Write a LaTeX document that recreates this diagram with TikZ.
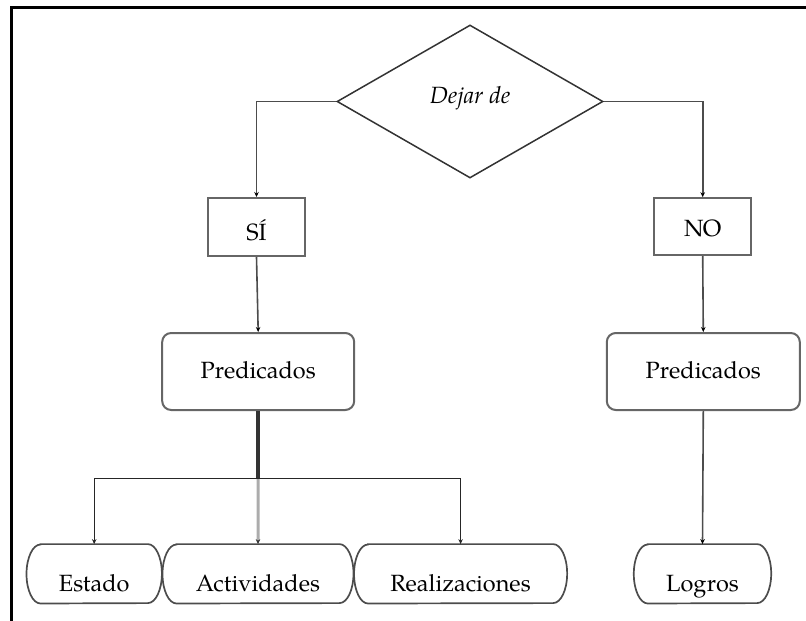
\documentclass[tikz,border=0pt]{standalone}
\usepackage{fontspec}
\setmainfont{TeX Gyre Pagella}
\usetikzlibrary{arrows.meta,shapes.geometric}
\tikzset{
  txt/.style={font=\fontsize{23.5}{28}\selectfont, inner sep=0pt, text depth=0pt},
  sqbox/.style={txt, rectangle, draw=gray!80!black, line width=2pt},
  rbox/.style={txt, rectangle, rounded corners=9pt, draw=gray!80!black, line width=2pt, minimum width=192pt, minimum height=77pt, text height=13.6pt},
  pill/.style={txt, rectangle, minimum height=59pt, text height=35.8pt},
  pillline/.style={draw=gray!60!black, line width=1.7pt},
  conn/.style={draw=gray!60!black, line width=1.6pt, -{Stealth[length=5pt,width=4.5pt,color=black]}},
  darkconn/.style={draw=black!85, line width=1.3pt, -{Stealth[length=5pt,width=4.5pt]}},
}
\newcommand{\pilloutline}[1]{%
  \draw[pillline] ([xshift=14pt]#1.north west) -- ([xshift=-14pt]#1.north east)
    arc[start angle=90,end angle=-90,x radius=14pt,y radius=29.5pt]
    -- ([xshift=14pt]#1.south west)
    arc[start angle=270,end angle=90,x radius=14pt,y radius=29.5pt] -- cycle;}
\begin{document}
\begin{tikzpicture}[x=1pt,y=-1pt]
\useasboundingbox (0,0) rectangle (806,621);
% frame
\draw[line width=3pt] (11.5,622) -- (11.5,7) -- (807,7);
% nodes
\node[txt, diamond, draw=gray!40!black, line width=1.5pt, minimum width=266pt, minimum height=153pt, text height=4pt, font=\fontsize{23.5}{28}\selectfont\itshape] (dia) at (470,101.5) {Dejar de};
\node[sqbox, minimum width=97pt, minimum height=58pt, text height=26pt] (si) at (256.5,227) {SÍ};
\node[sqbox, minimum width=97.5pt, minimum height=57pt, text height=20pt] (no) at (702.7,226.7) {NO};
\node[rbox] (pred1) at (258.2,371.5) {Predicados};
\node[rbox, minimum width=193pt] (pred2) at (703.3,371.5) {Predicados};
\node[pill, minimum width=135pt] (estado) at (94.2,573.8) {Estado};
\node[pill, minimum width=190.6pt] (activ) at (258,573.8) {Actividades};
\node[pill, minimum width=212.7pt] (realiz) at (460.6,573.8) {Realizaciones};
\node[pill, minimum width=137pt] (logros) at (702.5,573.8) {Logros};
\pilloutline{estado}
\pilloutline{activ}
\pilloutline{realiz}
\pilloutline{logros}
% connectors
\draw[conn] (dia.west) -| (si.north);
\draw[conn] (dia.east) -| (no.north);
\draw[conn] (si.south) -- (pred1.north);
\draw[conn] (no.south) -- (pred2.north);
\coordinate (brY) at (0,478.3);
\coordinate (br) at (pred1.south |- brY);
\draw[draw=black!80, line width=3.5pt] (pred1.south) -- (br);
\draw[draw=gray!65, line width=3pt, -{Stealth[length=5pt,width=4.5pt,color=black!80]}] (br) -- (activ.north);
\draw[darkconn] (br) -| (estado.north);
\draw[darkconn] (br) -| (realiz.north);
\draw[conn] (pred2.south) -- (logros.north);
\end{tikzpicture}
\end{document}
